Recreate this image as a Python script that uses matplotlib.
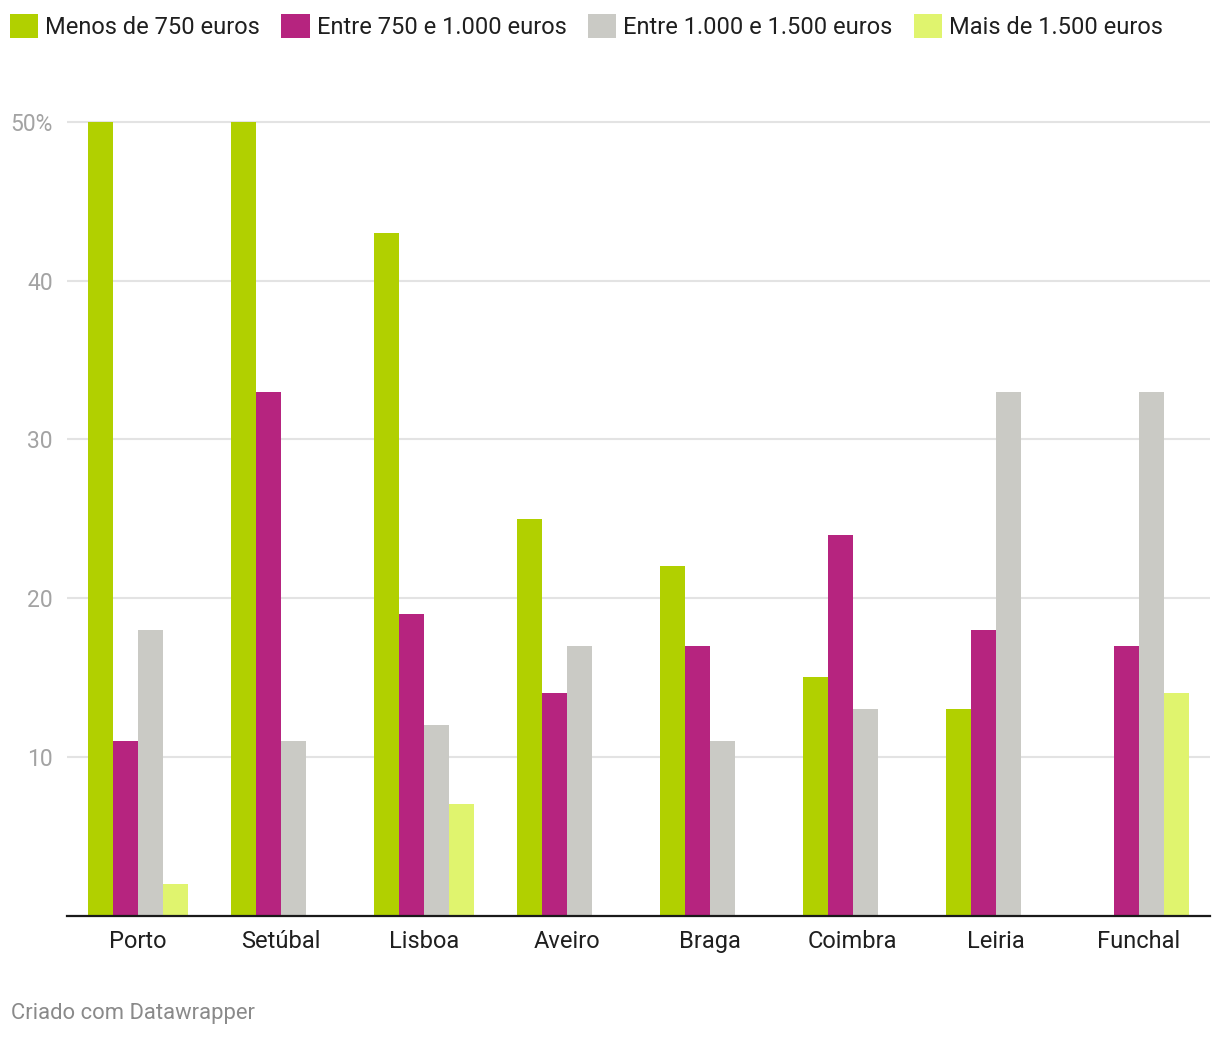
import matplotlib
matplotlib.use("Agg")
import matplotlib.pyplot as plt
from matplotlib.patches import Patch
import numpy as np

plt.rcParams['font.family'] = ['Roboto', 'DejaVu Sans']

cities = ["Porto", "Setúbal", "Lisboa", "Aveiro", "Braga", "Coimbra", "Leiria", "Funchal"]
series_names = ["Menos de 750 euros", "Entre 750 e 1.000 euros",
                "Entre 1.000 e 1.500 euros", "Mais de 1.500 euros"]
menos_750 = [50, 50, 43, 25, 22, 15, 13, 0]
entre_750_1000 = [11, 33, 19, 14, 17, 24, 18, 17]
entre_1000_1500 = [18, 11, 12, 17, 11, 13, 33, 33]
mais_1500 = [2, 0, 7, 0, 0, 0, 0, 14]
yticks = [10, 20, 30, 40, 50]
ytick_labels = ["10", "20", "30", "40", "50%"]

colors = ["#b1d000", "#b6247f", "#cacac5", "#e0f46e"]
series = [menos_750, entre_750_1000, entre_1000_1500, mais_1500]

W, H = 1220, 1038
fig = plt.figure(figsize=(W / 100, H / 100), dpi=100)
fig.patch.set_facecolor("white")

ymax = 51
px_per_unit = (915.5 - 122) / 50
top_px = 915.5 - ymax * px_per_unit
left, right, bottom = 66.7, 1210, 915.5
ax = fig.add_axes([left / W, 1 - bottom / H, (right - left) / W, (bottom - top_px) / H])

x = np.arange(len(cities))
w = 25 / 143
for i, (vals, c, name) in enumerate(zip(series, colors, series_names)):
    ax.bar(x + (i - 1.5) * w, vals, width=w, color=c, linewidth=0, zorder=2)

ax.set_xlim(-0.5, len(cities) - 0.5)
ax.set_ylim(0, ymax)

for yv in yticks:
    ax.axhline(yv, color="#e3e3e3", linewidth=1.5, zorder=1)

ax.set_yticks(yticks)
ax.set_yticklabels(ytick_labels)
ax.set_xticks(x)
ax.set_xticklabels(cities)
ax.tick_params(axis="y", length=0, pad=10, labelsize=16.5, labelcolor="#a3a3a3")
ax.tick_params(axis="x", length=0, pad=10.5, labelsize=17, labelcolor="#1f1f1f")

for s in ["top", "right", "left"]:
    ax.spines[s].set_visible(False)
ax.spines["bottom"].set_color("#1a1a1a")
ax.spines["bottom"].set_linewidth(1.6)
ax.spines["bottom"].set_zorder(3)

handles = [Patch(facecolor=c, edgecolor="none") for c in colors]
fig.legend(handles, series_names, loc="upper left", bbox_to_anchor=(10 / W, 1 - 14 / H),
           ncol=4, frameon=False, fontsize=17, handlelength=1.2, handleheight=1.2,
           handletextpad=0.3, columnspacing=0.9, borderpad=0, borderaxespad=0,
           labelcolor="#1f1f1f")

fig.text(10.7 / W, 1 - 1013 / H, "Criado com Datawrapper", fontsize=15.8, color="#8a8a8a",
         va="center", ha="left")

fig.savefig("out.png", dpi=100, facecolor="white")
